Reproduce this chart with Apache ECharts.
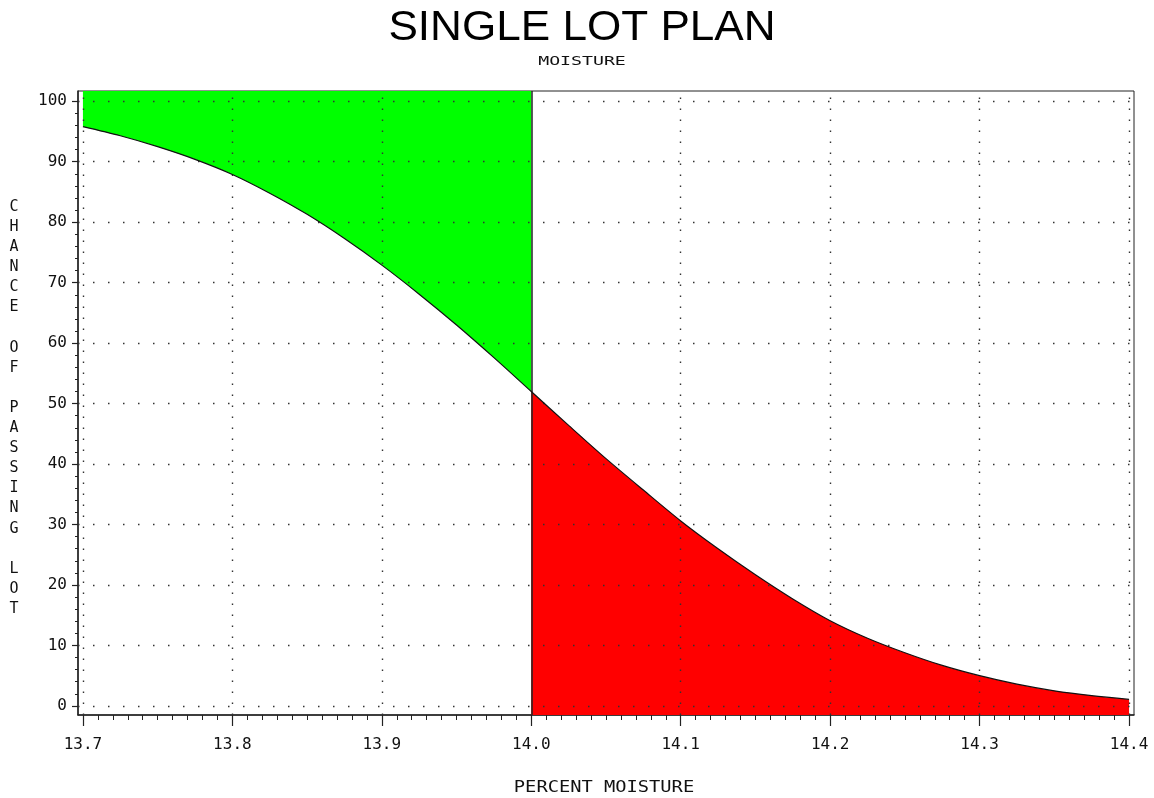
<!DOCTYPE html>
<html>
<head>
<meta charset="utf-8">
<script src="https://cdn.jsdelivr.net/npm/echarts@6/dist/echarts.min.js"></script>
<style>
html,body{margin:0;padding:0;background:#fff;}
#chart{width:1154px;height:798px;}
</style>
</head>
<body>
<div id="chart"></div>
<script>
// ---- data ----
const moisture = [13.7, 13.725, 13.75, 13.775, 13.8, 13.825, 13.85, 13.875, 13.9, 13.925, 13.95, 13.975, 14.0,
                  14.025, 14.05, 14.075, 14.1, 14.125, 14.15, 14.175, 14.2, 14.225, 14.25, 14.275, 14.3, 14.325, 14.35, 14.375, 14.4];
const chance   = [95.8, 94.3, 92.5, 90.4, 87.9, 84.8, 81.3, 77.3, 72.9, 68.1, 63.0, 57.6, 52.0,
                  46.4, 40.9, 35.7, 30.6, 26.0, 21.7, 17.7, 14.1, 11.2, 8.8, 6.7, 5.0, 3.6, 2.5, 1.7, 1.1];
const cutoff = 14.0;
const xTickLabels = [13.7, 13.8, 13.9, 14.0, 14.1, 14.2, 14.3, 14.4];
const yTickLabels = [0, 10, 20, 30, 40, 50, 60, 70, 80, 90, 100];
const titleText = 'SINGLE LOT PLAN';
const subtitleText = 'MOISTURE';
const xAxisTitle = 'PERCENT MOISTURE';
const yAxisTitle = 'CHANCE OF PASSING LOT';

const X_MIN = 13.6967, X_MAX = 14.4033, Y_MIN = -1.5, Y_MAX = 101.7;

const curve = moisture.map((x, i) => [x, chance[i]]);
const accept = curve.filter(p => p[0] <= cutoff);
const reject = curve.filter(p => p[0] >= cutoff);

const xMinor = [];
for (let i = 0; i <= 70; i++) xMinor.push(Math.round((13.7 + i * 0.01) * 1000) / 1000);
const yMinor = [];
for (let v = 0; v <= 100; v += 2) yMinor.push(v);

const monoFont = 'DejaVu Sans Mono';
const gridDotH = {type: [1.5, 13.5], color: '#333', width: 1.4};
const gridDotV = {type: [1.5, 9.5], color: '#333', width: 1.4};

const markData = [];
yTickLabels.forEach(v => markData.push({yAxis: v, lineStyle: gridDotH}));
xTickLabels.forEach(v => { if (v !== cutoff) markData.push({xAxis: v, lineStyle: gridDotV}); });
markData.push({xAxis: cutoff, lineStyle: {type: 'solid', color: '#222', width: 1.5}});

const chart = echarts.init(document.getElementById('chart'), null, {renderer: 'canvas'});
chart.setOption({
  backgroundColor: '#ffffff',
  animation: false,
  grid: {left: 78, right: 20, top: 91, bottom: 83, show: true, borderColor: '#222', borderWidth: 1, backgroundColor: 'transparent'},
  xAxis: [
    {type: 'value', min: X_MIN, max: X_MAX, position: 'bottom',
     axisLine: {show: true, onZero: false, lineStyle: {color: '#222', width: 1.5}},
     axisTick: {show: true, customValues: xMinor, length: 5, lineStyle: {color: '#222', width: 1}},
     axisLabel: {show: false}, splitLine: {show: false}},
    {type: 'value', min: X_MIN, max: X_MAX, position: 'bottom',
     axisLine: {show: false, onZero: false},
     axisTick: {show: true, customValues: xTickLabels, length: 11, lineStyle: {color: '#222', width: 1.2}},
     axisLabel: {show: true, customValues: xTickLabels, margin: 22, fontFamily: monoFont, fontSize: 16, color: '#111',
                 formatter: v => Number(v).toFixed(1)},
     splitLine: {show: false}}
  ],
  yAxis: [
    {type: 'value', min: Y_MIN, max: Y_MAX, position: 'left',
     axisLine: {show: true, onZero: false, lineStyle: {color: '#222', width: 1.5}},
     axisTick: {show: true, customValues: yMinor, length: 3, lineStyle: {color: '#222', width: 1}},
     axisLabel: {show: false}, splitLine: {show: false}},
    {type: 'value', min: Y_MIN, max: Y_MAX, position: 'left',
     axisLine: {show: false, onZero: false},
     axisTick: {show: true, customValues: yTickLabels, length: 6, lineStyle: {color: '#222', width: 1.2}},
     axisLabel: {show: true, customValues: yTickLabels, margin: 11, fontFamily: monoFont, fontSize: 16, color: '#111'},
     splitLine: {show: false}}
  ],
  graphic: [
    {type: 'text', x: 582, y: 28, scaleX: 1.05, z: 100,
     style: {text: titleText, fontFamily: 'Liberation Sans', fontSize: 42, fill: '#000', align: 'center', verticalAlign: 'middle'}},
    {type: 'text', x: 582, y: 62, scaleX: 1.4, z: 100,
     style: {text: subtitleText, fontFamily: monoFont, fontSize: 13, fill: '#111', align: 'center', verticalAlign: 'middle'}},
    {type: 'text', x: 604, y: 788, scaleX: 1.17, z: 100,
     style: {text: xAxisTitle, fontFamily: monoFont, fontSize: 16, fill: '#111', align: 'center', verticalAlign: 'middle'}},
    {type: 'text', x: 14, y: 197, z: 100,
     style: {text: yAxisTitle.split('').join('\n'), fontFamily: monoFont, fontSize: 15, lineHeight: 20.1,
             fill: '#111', align: 'center', verticalAlign: 'top'}}
  ],
  series: [
    {type: 'line', name: 'accept', data: accept, xAxisIndex: 0, yAxisIndex: 0, symbol: 'none', smooth: 0.3,
     lineStyle: {width: 0, opacity: 0}, areaStyle: {color: '#00ff00', opacity: 1, origin: 'end'}, z: 1, silent: true},
    {type: 'line', name: 'reject', data: reject, xAxisIndex: 0, yAxisIndex: 0, symbol: 'none', smooth: 0.3,
     lineStyle: {width: 0, opacity: 0}, areaStyle: {color: '#ff0000', opacity: 1, origin: 'start'}, z: 1, silent: true},
    {type: 'line', name: 'curve', data: curve, xAxisIndex: 0, yAxisIndex: 0, symbol: 'none', smooth: 0.3,
     lineStyle: {width: 1.2, color: '#111'}, z: 20, silent: true,
     markLine: {silent: true, z: 20, symbol: ['none', 'none'], label: {show: false}, animation: false, data: markData}}
  ]
});
</script>
</body>
</html>
